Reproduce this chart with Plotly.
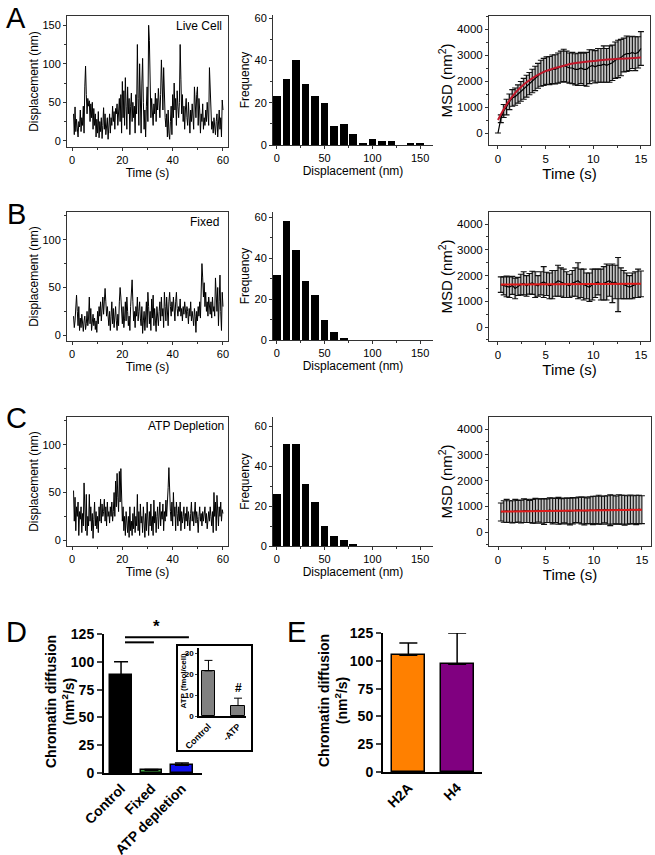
import numpy as np
import plotly.graph_objects as go

W, H = 655, 855
FONT = "Liberation Sans, Arial, sans-serif"

# ---------------- data ----------------
disp_live = [35, 8, 44, 12, 28, 15, 5, 25, 18, 40,
             12, 30, 20, 45, 10, 70, 97, 60, 35, 55,
             45, 52, 25, 48, 30, 50, 15, 42, 20, 35,
             5, 28, 10, 38, 4, 25, 12, 30, 3, 20,
             43, 15, 35, 8, 22, 30, 2, 18, 35, 10,
             30, 20, 45, 25, 38, 15, 42, 35, 48, 20,
             40, 55, 25, 60, 10, 77, 30, 65, 20, 82,
             45, 15, 70, 35, 55, 8, 45, 62, 25, 50,
             30, 45, 10, 60, 35, 125, 55, 20, 100, 40,
             10, 75, 107, 50, 15, 40, 5, 45, 70, 25,
             150, 130, 60, 30, 55, 40, 20, 48, 35, 62,
             25, 55, 40, 68, 45, 30, 60, 105, 75, 40,
             95, 50, 30, 18, 35, 5, 40, 10, 2, 25,
             45, 8, 60, 30, 75, 40, 55, 20, 65, 45,
             30, 50, 125, 80, 35, 60, 25, 45, 15, 40,
             55, 30, 20, 50, 35, 10, 40, 25, 48, 30,
             15, 70, 45, 30, 60, 70, 20, 55, 40, 10,
             35, 25, 48, 15, 30, 20, 40, 25, 50, 35,
             20, 95, 60, 30, 15, 25, 10, 30, 20, 8,
             25, 35, 5, 20, 40, 15, 30, 5, 53, 40]
disp_fixed = [20, 8, 15, 35, 42, 25, 10, 30, 5, 18,
              8, 22, 12, 4, 15, 20, 6, 12, 25, 10,
              18, 40, 12, 28, 5, 15, 22, 10, 18, 6,
              15, 3, 25, 12, 30, 20, 35, 15, 28, 40,
              22, 45, 49, 35, 20, 30, 15, 10, 25, 5,
              20, 35, 12, 28, 8, 18, 30, 15, 5, 22,
              10, 35, 50, 40, 20, 12, 30, 8, 18, 35,
              15, 40, 25, 10, 20, 5, 30, 45, 58, 35,
              15, 25, 8, 30, 20, 40, 15, 25, 35, 18,
              10, 30, 2, 15, 25, 5, 20, 35, 8, 45,
              30, 12, 25, 5, 38, 18, 42, 10, 28, 15,
              4, 30, 20, 10, 25, 35, 15, 40, 20, 28,
              8, 45, 30, 15, 40, 25, 10, 35, 45, 30,
              20, 35, 25, 40, 30, 15, 35, 45, 28, 20,
              30, 25, 38, 20, 28, 15, 30, 22, 35, 25,
              18, 30, 25, 12, 28, 20, 35, 15, 25, 18,
              10, 28, 20, 3, 25, 15, 30, 20, 35, 18,
              45, 75, 60, 40, 55, 30, 45, 25, 35, 20,
              40, 30, 22, 35, 18, 40, 25, 30, 20, 60,
              40, 25, 50, 10, 35, 63, 25, 5, 45, 30]
disp_atp = [52, 20, 45, 10, 35, 25, 40, 5, 30, 22,
            35, 8, 28, 15, 60, 30, 10, 48, 5, 25,
            15, 48, 20, 35, 10, 28, 2, 22, 40, 15,
            30, 12, 25, 8, 35, 20, 43, 18, 38, 25,
            30, 43, 20, 35, 15, 40, 25, 30, 18, 35,
            25, 40, 20, 30, 50, 25, 62, 35, 70, 45,
            30, 72, 40, 75, 55, 20, 35, 10, 25, 5,
            30, 15, 8, 25, 3, 35, 10, 20, 5, 28,
            12, 35, 8, 25, 15, 48, 10, 30, 5, 38,
            18, 25, 8, 35, 15, 3, 28, 10, 40, 20,
            5, 30, 15, 38, 10, 25, 5, 42, 18, 30,
            8, 25, 35, 12, 28, 40, 15, 30, 22, 38,
            10, 30, 20, 42, 25, 35, 55, 76, 45, 30,
            20, 40, 15, 50, 25, 35, 10, 40, 28, 15,
            35, 20, 40, 10, 30, 18, 25, 35, 12, 28,
            20, 35, 15, 30, 22, 10, 28, 40, 20, 30,
            15, 25, 40, 18, 30, 22, 8, 25, 35, 20,
            28, 15, 30, 20, 25, 35, 18, 28, 12, 22,
            30, 20, 35, 25, 15, 30, 8, 50, 25, 40,
            10, 47, 30, 15, 35, 25, 40, 20, 32, 28]

hist_bins = [0, 10, 20, 30, 40, 50, 60, 70, 80, 90, 100, 110, 120, 130, 140, 150]
hist_live = [23, 31, 40, 29, 23, 20, 9, 10, 5, 1, 3, 2, 2, 0, 1, 1]
hist_fixed = [32, 58, 44, 29, 22, 10, 4, 1, 0, 0, 0, 0, 0, 0, 0, 0]
hist_atp = [26, 51, 51, 31, 22, 10, 5, 3, 1, 0, 0, 0, 0, 0, 0, 0]

msd_t_live = [0.0, 0.3, 0.6, 0.9, 1.2, 1.5, 1.8, 2.1, 2.4, 2.7, 3.0, 3.3, 3.6, 3.9, 4.2, 4.5, 4.8,
              5.1, 5.4, 5.7, 6.0, 6.3, 6.6, 6.9, 7.2, 7.5, 7.8, 8.1, 8.4, 8.7, 9.0, 9.3, 9.6,
              9.9, 10.2, 10.5, 10.8, 11.1, 11.4, 11.7, 12.0, 12.3, 12.6, 12.9, 13.2, 13.5,
              13.8, 14.1, 14.4, 14.7, 15.0]
msd_live = [0, 550, 850, 1000, 1200, 1350, 1400, 1500, 1600, 1700, 1800, 1900, 2000, 2100,
            2200, 2300, 2350, 2400, 2400, 2450, 2450, 2500, 2550, 2600, 2550, 2500, 2500,
            2450, 2450, 2500, 2450, 2450, 2550, 2600, 2550, 2600, 2600, 2650, 2600, 2650,
            2700, 2800, 2850, 2900, 3000, 3050, 3050, 3100, 3050, 3100, 3250]
msd_live_err = [0, 150, 250, 300, 300, 320, 330, 350, 380, 400, 420, 430, 450, 470, 480, 500,
                520, 530, 540, 550, 560, 580, 600, 620, 600, 580, 600, 600, 620, 600, 620,
                650, 650, 600, 620, 650, 650, 700, 650, 700, 680, 700, 720, 700, 650, 680,
                650, 620, 650, 600, 650]
fit_t_live = [0, 0.5, 1, 1.5, 2, 2.5, 3, 4, 5, 6, 7, 8, 9, 10, 11, 12, 13, 14, 15]
fit_live = [500, 850, 1150, 1400, 1620, 1800, 1950, 2200, 2380, 2500, 2600, 2680, 2730,
            2770, 2810, 2840, 2860, 2880, 2900]

msd_t = msd_t_live[1:]
msd_fixed = [1650, 1600, 1580, 1550, 1620, 1500, 1580, 1650, 1700, 1600, 1680, 1720, 1650,
             1600, 1700, 1750, 1680, 1600, 1650, 1700, 1800, 1750, 1700, 1650, 1600, 1700,
             1750, 1800, 1700, 1650, 1600, 1550, 1650, 1700, 1750, 1650, 1700, 1750, 1800,
             1700, 1750, 1650, 1700, 1650, 1600, 1550, 1600, 1650, 1700, 1680]
msd_fixed_err = [300, 350, 400, 400, 350, 400, 350, 400, 450, 400, 400, 450, 500, 400, 450,
                 600, 450, 500, 550, 500, 600, 550, 550, 500, 450, 500, 550, 700, 550, 600,
                 500, 550, 600, 550, 500, 600, 650, 700, 600, 750, 650, 1050, 600, 550, 500,
                 450, 500, 500, 550, 500]
fit_t_fixed = [0.3, 15]
fit_fixed = [1650, 1680]
msd_atp = [780, 800, 820, 800, 790, 820, 810, 800, 830, 820, 800, 810, 830, 840, 820, 800,
           830, 850, 820, 840, 830, 810, 840, 820, 800, 830, 850, 860, 840, 820, 830, 850,
           840, 860, 870, 850, 880, 860, 850, 870, 860, 880, 870, 850, 860, 880, 870, 860,
           880, 870]
msd_atp_err = [350, 420, 450, 420, 430, 450, 420, 440, 460, 450, 430, 460, 480, 450, 470,
               500, 460, 480, 500, 470, 520, 490, 480, 500, 520, 510, 480, 500, 520, 540,
               500, 520, 550, 530, 560, 540, 520, 550, 600, 560, 540, 570, 560, 580, 550,
               560, 540, 570, 550, 540]
fit_t_atp = [0.3, 15]
fit_atp = [800, 870]

d_cats = ["Control", "Fixed", "ATP depletion"]
d_vals = [88, 2.5, 7]
d_err = [12, 0.6, 2]
d_colors = ["#000000", "#45a845", "#1010ee"]

inset_cats = ["Control", "-ATP"]
inset_vals = [21.5, 5]
inset_err = [5, 3.5]

e_cats = ["H2A", "H4"]
e_vals = [105, 97]
e_err = [11, 28]
e_colors = ["#ff8000", "#800080"]

# ---------------- helpers ----------------
def dxp(a, b):
    return [a / W, b / W]

def dyp(top, bottom):
    return [1 - bottom / H, 1 - top / H]

fig = go.Figure()
layout = {}

def ax(n):
    return ("x" if n == 1 else f"x{n}"), ("y" if n == 1 else f"y{n}")

def lk(n, a):
    return (f"{a}axis" if n == 1 else f"{a}axis{n}")

small = dict(family=FONT, size=11, color="black")

def box_axes(n, xd, yd, xr, yr, xdt, ydt, xt, yt, tf=11, ttf=12, ystand=1, xstand=1):
    common = dict(showline=True, linecolor="#333", linewidth=1, mirror=True,
                  ticks="outside", ticklen=3, tickcolor="#333", showgrid=False, automargin=False,
                  zeroline=False, tickfont=dict(family=FONT, size=tf, color="black"))
    layout[lk(n, "x")] = dict(common, domain=xd, range=xr, dtick=xdt, tick0=0,
                              minor=dict(ticks="outside", ticklen=2, dtick=xdt / 2, tickcolor="#333"),
                              title=dict(text=xt, font=dict(family=FONT, size=ttf), standoff=xstand),
                              anchor=ax(n)[1])
    layout[lk(n, "y")] = dict(common, domain=yd, range=yr, dtick=ydt, tick0=0,
                              minor=dict(ticks="outside", ticklen=2, dtick=ydt / 2, tickcolor="#333"),
                              title=dict(text=yt, font=dict(family=FONT, size=ttf), standoff=ystand),
                              anchor=ax(n)[0])

def hist_axes(n, xd, yd, yr):
    common = dict(showline=True, linecolor="#333", linewidth=1, mirror=False,
                  ticks="outside", ticklen=3, tickcolor="#333", showgrid=False, automargin=False,
                  zeroline=False, tickfont=small)
    layout[lk(n, "x")] = dict(common, domain=xd, range=[-4, 163.5], dtick=50, tick0=0,
                              minor=dict(ticks="outside", ticklen=2, dtick=25, tickcolor="#333"),
                              title=dict(text="Displacement (nm)", font=dict(family=FONT, size=12), standoff=1),
                              anchor=ax(n)[1])
    layout[lk(n, "y")] = dict(common, domain=yd, range=yr, dtick=20, tick0=0,
                              minor=dict(ticks="outside", ticklen=2, dtick=10, tickcolor="#333"),
                              title=dict(text="Frequency", font=dict(family=FONT, size=12), standoff=2),
                              anchor=ax(n)[0])

def add_disp(n, vals):
    t = np.linspace(0.6, 60, len(vals))
    xa, ya = ax(n)
    fig.add_trace(go.Scatter(x=t, y=vals, mode="lines", line=dict(color="black", width=1),
                             xaxis=xa, yaxis=ya, showlegend=False))

def add_hist(n, vals):
    xa, ya = ax(n)
    fig.add_trace(go.Bar(x=hist_bins, y=vals, width=8, marker=dict(color="black", line=dict(width=0)),
                         xaxis=xa, yaxis=ya, showlegend=False))

def add_msd(n, t, m, e, ft, f, fitcolor):
    xa, ya = ax(n)
    hi = [a + b for a, b in zip(m, e)]
    lo = [a - b for a, b in zip(m, e)]
    fig.add_trace(go.Scatter(x=list(t) + list(t)[::-1], y=hi + lo[::-1], mode="lines",
                             fill="toself", fillcolor="rgba(150,150,150,0.55)", line=dict(width=0),
                             line_shape="hvh", xaxis=xa, yaxis=ya, showlegend=False, hoverinfo="skip"))
    fig.add_trace(go.Scatter(x=t, y=m, mode="lines",
                             line=dict(color="black", width=1.2),
                             error_y=dict(type="data", array=e, color="#111", thickness=1.1, width=3),
                             xaxis=xa, yaxis=ya, showlegend=False))
    fig.add_trace(go.Scatter(x=ft, y=f, mode="lines", line=dict(color=fitcolor, width=2, shape="spline"),
                             xaxis=xa, yaxis=ya, showlegend=False))

# Row A
add_disp(1, disp_live)
box_axes(1, dxp(67, 228), dyp(16, 147), [-2, 62], [-8, 162], 20, 50, "Time (s)", "Displacement (nm)")
add_hist(2, hist_live)
hist_axes(2, dxp(273, 433), dyp(15, 145), [0, 61.5])
add_msd(3, msd_t_live, msd_live, msd_live_err, fit_t_live, fit_live, "#c0182a")
box_axes(3, dxp(489, 650), dyp(16, 145), [-0.94, 15.95], [-460, 4500], 5, 1000,
         "Time (s)", "MSD (nm<sup>2</sup>)", tf=11.5, ttf=15, ystand=0, xstand=0)
# Row B
add_disp(4, disp_fixed)
box_axes(4, dxp(67, 228), dyp(212, 341), [-2, 62], [-6, 129], 20, 50, "Time (s)", "Displacement (nm)")
add_hist(5, hist_fixed)
hist_axes(5, dxp(273, 433), dyp(212, 340), [0, 62.6])
add_msd(6, msd_t, msd_fixed, msd_fixed_err, fit_t_fixed, fit_fixed, "#e01b1b")
box_axes(6, dxp(489, 650), dyp(212, 341), [-0.94, 15.95], [-540, 4470], 5, 1000,
         "Time (s)", "MSD (nm<sup>2</sup>)", tf=11.5, ttf=15, ystand=0, xstand=0)
# Row C
add_disp(7, disp_atp)
box_axes(7, dxp(67, 228), dyp(417, 546), [-2, 62], [-6, 129], 20, 50, "Time (s)", "Displacement (nm)")
add_hist(8, hist_atp)
hist_axes(8, dxp(273, 433), dyp(417, 546), [0, 64.5])
add_msd(9, msd_t, msd_atp, msd_atp_err, fit_t_atp, fit_atp, "#e01b1b")
box_axes(9, dxp(489, 651), dyp(417, 546), [-0.94, 15.95], [-540, 4470], 5, 1000,
         "Time (s)", "MSD (nm<sup>2</sup>)", tf=11.5, ttf=15, ystand=0, xstand=0)

# Panel D
bold14 = dict(family=FONT, size=14, color="black", weight="bold")
bold8 = dict(family=FONT, size=8, color="black", weight="bold")
fig.add_trace(go.Bar(x=[0, 1, 2], y=d_vals, width=0.72,
                     marker=dict(color=d_colors, line=dict(color="black", width=1.5)),
                     error_y=dict(type="data", symmetric=False, array=d_err, arrayminus=[0, 0, 0],
                                  color="black", thickness=1.5, width=7),
                     xaxis="x10", yaxis="y10", showlegend=False))
layout["xaxis10"] = dict(domain=dxp(104, 202), range=[-0.56, 2.66], tickvals=[0, 1, 2], ticktext=d_cats,
                         tickangle=-45, tickfont=bold14, showline=True, linecolor="black", linewidth=2,
                         ticks="", showgrid=False, zeroline=False, anchor="y10", automargin=False)
layout["yaxis10"] = dict(domain=dyp(634, 773), range=[0, 125], dtick=25, tick0=0, tickfont=bold14,
                         showline=True, linecolor="black", linewidth=2, ticks="outside", ticklen=5,
                         tickwidth=2, showgrid=False, zeroline=False, anchor="x10", automargin=False)

# Inset
fig.add_trace(go.Bar(x=[0, 1], y=inset_vals, width=0.45,
                     marker=dict(color="#808080", line=dict(color="black", width=1)),
                     error_y=dict(type="data", symmetric=False, array=inset_err, arrayminus=[0, 0],
                                  color="black", thickness=1, width=4),
                     xaxis="x11", yaxis="y11", showlegend=False))
layout["xaxis11"] = dict(domain=dxp(199, 246), range=[-0.32, 1.27], tickvals=[0, 1], ticktext=inset_cats,
                         tickangle=-45, tickfont=dict(bold8, size=9), showline=True, linecolor="black",
                         linewidth=1.5, ticks="", showgrid=False, zeroline=False, anchor="y11",
                         automargin=False)
layout["yaxis11"] = dict(domain=dyp(648, 716), range=[0, 32.4], dtick=10, tick0=0, tickfont=bold8,
                         showline=True, linecolor="black", linewidth=1.5, ticks="outside", ticklen=2,
                         showgrid=False, zeroline=False, anchor="x11", automargin=False)

# Panel E
fig.add_trace(go.Bar(x=[0, 1], y=e_vals, width=0.68,
                     marker=dict(color=e_colors, line=dict(color="black", width=1.5)),
                     error_y=dict(type="data", symmetric=False, array=e_err, arrayminus=[0, 0],
                                  color="black", thickness=1.5, width=9),
                     xaxis="x12", yaxis="y12", showlegend=False))
layout["xaxis12"] = dict(domain=dxp(383, 482), range=[-0.52, 1.51], tickvals=[0, 1], ticktext=e_cats,
                         tickangle=-45, tickfont=bold14, showline=True, linecolor="black", linewidth=2,
                         ticks="", showgrid=False, zeroline=False, anchor="y12", automargin=False)
layout["yaxis12"] = dict(domain=dyp(633, 772), range=[0, 125], dtick=25, tick0=0, tickfont=bold14,
                         showline=True, linecolor="black", linewidth=2, ticks="outside", ticklen=5,
                         tickwidth=2, showgrid=False, zeroline=False, anchor="x12", automargin=False)

# shapes
shapes = [
    dict(type="rect", xref="paper", yref="paper", x0=177 / W, x1=252 / W,
         y0=1 - 751 / H, y1=1 - 645 / H, line=dict(color="black", width=2)),
    dict(type="line", xref="x10", yref="y10", x0=0.13, x1=1.08, y0=117.5, y1=117.5,
         line=dict(color="black", width=2)),
    dict(type="line", xref="x10", yref="y10", x0=0.13, x1=2.23, y0=122, y1=122,
         line=dict(color="black", width=2)),
]

def pann(text, xpx, ypx, size, xanchor="center", weight="normal", angle=0):
    return dict(text=text, xref="paper", yref="paper", x=xpx / W, y=1 - ypx / H,
                xanchor=xanchor, yanchor="middle", showarrow=False, textangle=angle,
                font=dict(family=FONT, size=size, color="black", weight=weight))

annotations = [
    pann("A", 16, 18, 29), pann("B", 16, 214, 29), pann("C", 16, 418, 29),
    pann("D", 16, 632, 29), pann("E", 296, 632, 29),
    pann("Live Cell", 224, 26, 12, xanchor="right"),
    pann("Fixed", 221, 222, 12, xanchor="right"),
    pann("ATP Depletion", 226, 426, 12, xanchor="right"),
    pann("Chromatin diffusion<br>(nm<sup>2</sup>/s)", 60, 702, 14, weight="bold", angle=-90),
    pann("Chromatin diffusion<br>(nm<sup>2</sup>/s)", 333, 701, 14, weight="bold", angle=-90),
    pann("ATP (fmol/cell)", 182.5, 681, 8, weight="bold", angle=-90),
    dict(text="*", xref="x10", yref="y10", x=1.18, y=121, yanchor="bottom", showarrow=False,
         font=dict(family=FONT, size=17, color="black", weight="bold")),
    dict(text="#", xref="x11", yref="y11", x=1, y=9, yanchor="bottom", showarrow=False,
         font=dict(family=FONT, size=12, color="black", weight="bold")),
]

fig.update_layout(width=W, height=H, margin=dict(l=0, r=0, t=0, b=0, autoexpand=False),
                  paper_bgcolor="white", plot_bgcolor="rgba(0,0,0,0)",
                  font=dict(family=FONT, color="black"), bargap=0,
                  shapes=shapes, annotations=annotations, showlegend=False, **layout)
fig.write_html("out.html", config={"displayModeBar": False},
               post_script="document.body.style.margin='0';document.body.style.padding='0';"
                           "document.body.style.overflow='hidden';")
